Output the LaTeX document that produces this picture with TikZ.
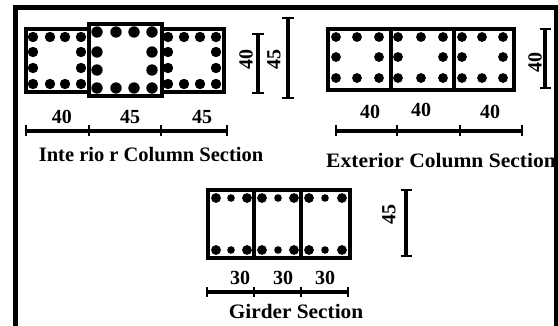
\documentclass[tikz,border=0pt]{standalone}
\usepackage{fontspec}
\setmainfont{Liberation Serif}
\tikzset{
 x=1pt,y=-1pt,
 frameline/.style={draw=black,line width=4.4pt},
 beam/.style={draw=black,line width=4pt,fill=white},
 divider/.style={draw=black,line width=3.6pt},
 dimrule/.style={draw=black,line width=3.4pt},
 dimtick/.style={draw=black,line width=2.4pt},
 lab/.style={font=\bfseries\fontsize{20}{22}\selectfont,inner sep=0pt},
 title/.style={font=\bfseries\fontsize{20.5}{22}\selectfont,inner sep=0pt},
}
\newcommand{\bars}[2]{\foreach \px/\py in {#2}{\fill[black] (\px,\py) circle (#1pt);}}
\begin{document}
\begin{tikzpicture}
\useasboundingbox (0,0) rectangle (558,326);
\fill[white] (0,0) rectangle (558,326);
\draw[frameline] (15.5,326) -- (15.5,7.5) -- (556,7.5) -- (556,326);
% interior
\draw[beam] (26,29) rectangle (224,92.5);
\bars{5.2}{33/37,50/37,65/37,81/37, 33/52,81/52, 33/68,81/68, 33/84,50/84,65/84,81/84}
\bars{5.2}{168/37,184/37,200/37,216/37, 168/52,216/52, 168/68,216/68, 168/84,184/84,200/84,216/84}
\draw[beam] (89,24) rectangle (161.5,96.5);
\bars{5.7}{97/32,116/32,134/32,152/32, 97/52,152/52, 97/70,152/70, 97/88,116/88,134/88,152/88}
\node[lab] (i1) at (62,117) {40};
\node[lab] (i2) at (130,117) {45};
\node[lab] (i3) at (202,117) {45};
\coordinate (ia) at (26,131); \coordinate (ib) at (89,131); \coordinate (ic) at (161,131); \coordinate (id) at (227,131);
\draw[dimrule] (ia) -- (id);
\foreach \p in {ia,ib,ic,id}{\draw[dimtick] ([yshift=-5.5pt]\p) -- ([yshift=5.5pt]\p);}
\node[title] (it) at (151,155) {Inte rio r Column Section};
\node[lab,rotate=90] (iv1) at (246,60) {40};
\coordinate (iv1a) at (258,34); \coordinate (iv1b) at (258,93);
\draw[dimrule] (iv1a) -- (iv1b);
\foreach \p in {iv1a,iv1b}{\draw[dimtick] ([xshift=-6pt]\p) -- ([xshift=6pt]\p);}
\node[lab,rotate=90] (iv2) at (274,60) {45};
\coordinate (iv2a) at (288,18); \coordinate (iv2b) at (288,98);
\draw[dimrule] (iv2a) -- (iv2b);
\foreach \p in {iv2a,iv2b}{\draw[dimtick] ([xshift=-6pt]\p) -- ([xshift=6pt]\p);}
% exterior
\draw[beam] (328,29) rectangle (514,90);
\draw[divider] (391,29) -- (391,90);
\draw[divider] (454,29) -- (454,90);
\bars{4.9}{336/37,357/37,379/37, 336/57,379/57, 336/78,357/78,379/78}
\bars{4.9}{398/37,421/37,443/37, 398/57,443/57, 398/78,421/78,443/78}
\bars{4.9}{462/37,482/37,503/37, 462/57,503/57, 462/78,482/78,503/78}
\node[lab] (e1) at (370,112) {40};
\node[lab] (e2) at (421,110) {40};
\node[lab] (e3) at (490,112) {40};
\coordinate (ea) at (336,131); \coordinate (eb) at (397,131); \coordinate (ec) at (460,131); \coordinate (ed) at (522,131);
\draw[dimrule] (ea) -- (ed);
\foreach \p in {ea,eb,ec,ed}{\draw[dimtick] ([yshift=-5.5pt]\p) -- ([yshift=5.5pt]\p);}
\node[title,xscale=1.05] (et) at (441,161) {Exterior Column Section};
\node[lab,rotate=90] (ev) at (535,63) {40};
\coordinate (eva) at (545,29); \coordinate (evb) at (545,88);
\draw[dimrule] (eva) -- (evb);
\foreach \p in {eva,evb}{\draw[dimtick] ([xshift=-5.5pt]\p) -- ([xshift=5.5pt]\p);}
% girder
\draw[beam] (208,190) rectangle (350,258);
\draw[divider] (254,190) -- (254,258);
\draw[divider] (301,190) -- (301,258);
\bars{4.9}{216/198,247/198,262/198,294/198,309/198,342/198, 216/250,247/250,262/250,294/250,309/250,342/250}
\bars{3.8}{231/198,278/198,325/198,231/250,278/250,325/250}
\node[lab] (g1) at (240,278) {30};
\node[lab] (g2) at (283,278) {30};
\node[lab] (g3) at (325,278) {30};
\coordinate (ga) at (207,292); \coordinate (gb) at (254,292); \coordinate (gc) at (301,292); \coordinate (gd) at (348,292);
\draw[dimrule] (ga) -- (gd);
\foreach \p in {ga,gb,gc,gd}{\draw[dimtick] ([yshift=-5pt]\p) -- ([yshift=5pt]\p);}
\node[title,xscale=1.04] (gt) at (296,311) {Girder Section};
\node[lab,rotate=90] (gv) at (389,215) {45};
\coordinate (gva) at (406,190); \coordinate (gvb) at (406,256);
\draw[dimrule] (gva) -- (gvb);
\foreach \p in {gva,gvb}{\draw[dimtick] ([xshift=-5.5pt]\p) -- ([xshift=5.5pt]\p);}
\end{tikzpicture}
\end{document}
